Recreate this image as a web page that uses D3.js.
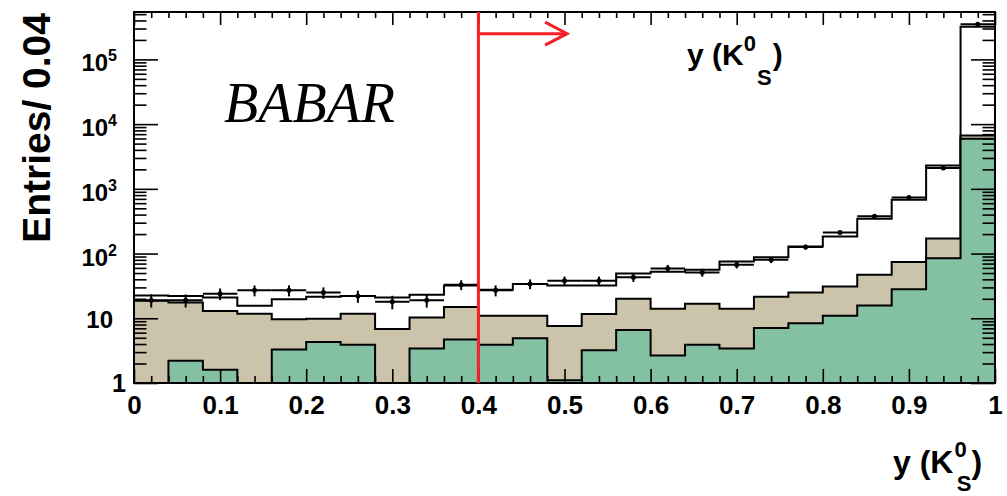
<!DOCTYPE html>
<html>
<head>
<meta charset="utf-8">
<script src="https://cdn.jsdelivr.net/npm/d3@7"></script>
<style>
  html, body { margin: 0; padding: 0; background: #fff; }
  svg { display: block; }
  text { font-family: "Liberation Sans", Arial, Helvetica, sans-serif; font-weight: bold; fill: #000; }
</style>
</head>
<body>
<svg id="chart" width="1007" height="496"></svg>
<script>
// Binning of y(K0S): 25 bins of width 0.04 on [0, 1]
const binWidth = 0.04;
const binLow = d3.range(0, 25).map(i => +(i * binWidth).toFixed(2));

// Observed entries per bin
const dataCounts = [19, 19, 24, 27, 27, 25, 22, 18, 19, 33, 27, 34, 38, 38, 43, 59, 51, 67, 80, 126, 212, 376, 738, 2100, 350000];

// Stacked simulation: total, beige level (beige + green), green level
const stackTotal = [22.4, 22, 21, 15.6, 19.7, 21.5, 22, 20.9, 23, 32, 27.5, 34, 32, 32, 49, 52.5, 56, 75.5, 88, 129, 184, 346, 680, 2290, 320000];
const stackBeige = [18.6, 17.5, 13, 11.7, 9.7, 9.8, 11.7, 6.8, 10.3, 14.9, 10.9, 10.9, 7.6, 11.6, 20, 14, 16.7, 14, 21.5, 25, 31, 47, 74, 171, 6650];
const stackGreen = [0, 2.2, 1.6, 0, 3.3, 4.3, 3.9, 0, 3.4, 4.7, 3.9, 4.9, 1.1, 3.2, 6.6, 2.65, 3.9, 3.4, 7.1, 8.4, 10.9, 15.7, 28, 85, 5920];

// Selection cut on y(K0S)
const cutValue = 0.4;
const cutArrowEnd = 0.503;
const cutArrowLevel = 2.5e5;

// Axis labels
const xTickLabels = ["0", "0.1", "0.2", "0.3", "0.4", "0.5", "0.6", "0.7", "0.8", "0.9", "1"];
const yDecades = [1, 10, 100, 1000, 10000, 100000];

const svg = d3.select("#chart");
const frame = { left: 134, right: 995, top: 12, bottom: 383 };

const x = d3.scaleLinear().domain([0, 1]).range([frame.left, frame.right]);
const y = d3.scaleLog().domain([1, 5.4e5]).range([frame.bottom, frame.top]).clamp(true);

const bins = binLow.map((lo, i) => ({
  lo, hi: lo + binWidth,
  data: dataCounts[i], total: stackTotal[i], beige: stackBeige[i], green: stackGreen[i]
}));

svg.append("defs").append("clipPath").attr("id", "plotClip")
  .append("rect")
  .attr("x", frame.left).attr("y", frame.top)
  .attr("width", frame.right - frame.left).attr("height", frame.bottom - frame.top);

const plot = svg.append("g").attr("clip-path", "url(#plotClip)");

// Step-shaped histogram areas
function stepPoints(key) {
  const pts = bins.map(b => ({ x: b.lo, v: b[key] }));
  pts.push({ x: 1, v: bins[bins.length - 1][key] });
  return pts;
}
const yVal = v => (v > 0 ? y(v) : frame.bottom);
const histArea = d3.area()
  .curve(d3.curveStepAfter)
  .x(d => x(d.x))
  .y0(frame.bottom)
  .y1(d => yVal(d.v));

const layers = [
  { key: "total", fill: "#ffffff" },
  { key: "beige", fill: "#cbc4ab" },
  { key: "green", fill: "#84c1a3" }
];
layers.forEach(l => {
  plot.append("path")
    .datum(stepPoints(l.key))
    .attr("d", histArea)
    .attr("fill", l.fill)
    .attr("stroke", "#000")
    .attr("stroke-width", 2)
    .attr("stroke-linejoin", "miter");
});

// Data points with Poisson errors and bin-width bars
const pts = plot.append("g").selectAll("g").data(bins).join("g");
pts.append("line")
  .attr("x1", d => x(d.lo)).attr("x2", d => x(d.hi))
  .attr("y1", d => y(d.data)).attr("y2", d => y(d.data))
  .attr("stroke", "#000").attr("stroke-width", 2);
pts.append("line")
  .attr("x1", d => x(d.lo + binWidth / 2)).attr("x2", d => x(d.lo + binWidth / 2))
  .attr("y1", d => y(d.data + Math.sqrt(d.data)))
  .attr("y2", d => y(Math.max(1, d.data - Math.sqrt(d.data))))
  .attr("stroke", "#000").attr("stroke-width", 2);
pts.append("circle")
  .attr("cx", d => x(d.lo + binWidth / 2)).attr("cy", d => y(d.data))
  .attr("r", 2.5).attr("fill", "#000");

// Tick marks on all four sides, pointing inward
const xTicks = x.ticks(50);
const isMajorX = v => Math.abs(v * 10 - Math.round(v * 10)) < 1e-6;
const yTicks = y.ticks().filter(v => v >= 1 && v <= 5.4e5);
const isMajorY = v => Math.abs(Math.log10(v) - Math.round(Math.log10(v))) < 1e-9;

function tickAxis(gen, values, size, transform) {
  const g = svg.append("g").attr("transform", transform)
    .call(gen.tickValues(values).tickSizeInner(size).tickSizeOuter(0).tickFormat(""));
  g.select(".domain").remove();
  g.selectAll(".tick line").attr("stroke", "#000").attr("stroke-width", 1.6);
  return g;
}
tickAxis(d3.axisBottom(x), xTicks.filter(v => !isMajorX(v)), -7, `translate(0,${frame.bottom})`);
tickAxis(d3.axisBottom(x), xTicks.filter(isMajorX), -14, `translate(0,${frame.bottom})`);
tickAxis(d3.axisTop(x), xTicks.filter(v => !isMajorX(v)), -6, `translate(0,${frame.top})`);
tickAxis(d3.axisTop(x), xTicks.filter(isMajorX), -13, `translate(0,${frame.top})`);
tickAxis(d3.axisLeft(y), yTicks.filter(v => !isMajorY(v)), -12.5, `translate(${frame.left},0)`);
tickAxis(d3.axisLeft(y), yTicks.filter(isMajorY), -24, `translate(${frame.left},0)`);
tickAxis(d3.axisRight(y), yTicks.filter(v => !isMajorY(v)), -12.5, `translate(${frame.right},0)`);
tickAxis(d3.axisRight(y), yTicks.filter(isMajorY), -24, `translate(${frame.right},0)`);

// Frame
svg.append("rect")
  .attr("x", frame.left).attr("y", frame.top)
  .attr("width", frame.right - frame.left).attr("height", frame.bottom - frame.top)
  .attr("fill", "none").attr("stroke", "#000").attr("stroke-width", 2);

// x tick labels
const xLab = svg.append("g")
  .attr("transform", `translate(0,${frame.bottom})`)
  .call(d3.axisBottom(x)
    .tickValues(xTickLabels.map(Number))
    .tickSize(0).tickPadding(13)
    .tickFormat((d, i) => xTickLabels[i]));
xLab.select(".domain").remove();
xLab.selectAll("text").attr("font-size", 26).attr("font-family", null).attr("fill", "#000");

// y tick labels (powers of ten)
yDecades.forEach(v => {
  const p = Math.round(Math.log10(v));
  if (p === 0) {
    svg.append("text").attr("x", 126).attr("y", y(v) + 9)
      .attr("text-anchor", "end").attr("font-size", 25).text("1");
  } else if (p === 1) {
    svg.append("text").attr("x", 113).attr("y", y(v) + 10)
      .attr("text-anchor", "end").attr("font-size", 24).text("10");
  } else {
    const t = svg.append("text").attr("x", 117).attr("y", y(v) + 12)
      .attr("text-anchor", "end").attr("font-size", 24);
    t.append("tspan").text("10");
    t.append("tspan").attr("dy", -10).attr("font-size", 16).text(String(p));
  }
});

// Axis titles
svg.append("text")
  .attr("transform", `translate(50,${frame.top + 1}) rotate(-90)`)
  .attr("text-anchor", "end").attr("font-size", 39)
  .text("Entries/ 0.04");

const xt = svg.append("text").attr("x", 893).attr("y", 473).attr("font-size", 32);
xt.append("tspan").text("y (K");
xt.append("tspan").attr("dx", 1).attr("dy", -16).attr("font-size", 22).text("0");
xt.append("tspan").attr("dx", -10).attr("dy", 34).attr("font-size", 22).text("S");
xt.append("tspan").attr("dx", 0).attr("dy", -18).text(")");

// Variable label inside the frame
const vt = svg.append("text").attr("x", 687).attr("y", 65).attr("font-size", 30);
vt.append("tspan").text("y (K");
vt.append("tspan").attr("dx", 0).attr("dy", -14).attr("font-size", 22).text("0");
vt.append("tspan").attr("dx", 1).attr("dy", 34).attr("font-size", 22).text("S");
vt.append("tspan").attr("dx", 1).attr("dy", -20).text(")");

// Experiment label
svg.append("text").attr("x", 224).attr("y", 122)
  .style("font-family", "'Liberation Serif', 'Times New Roman', serif")
  .style("font-style", "italic").style("font-weight", "normal")
  .attr("font-size", 56).text("BABAR");

// Cut line with arrow toward the selected region
const red = "#f51f26";
svg.append("line")
  .attr("x1", x(cutValue)).attr("x2", x(cutValue))
  .attr("y1", frame.top).attr("y2", frame.bottom)
  .attr("stroke", red).attr("stroke-width", 3);
const ay = y(cutArrowLevel), ax = x(cutArrowEnd);
svg.append("line")
  .attr("x1", x(cutValue)).attr("x2", ax)
  .attr("y1", ay).attr("y2", ay)
  .attr("stroke", red).attr("stroke-width", 3);
svg.append("path")
  .attr("d", `M${ax - 22},${ay - 11.5}L${ax},${ay}L${ax - 22},${ay + 11.5}`)
  .attr("fill", "none").attr("stroke", red).attr("stroke-width", 3);
</script>
</body>
</html>
